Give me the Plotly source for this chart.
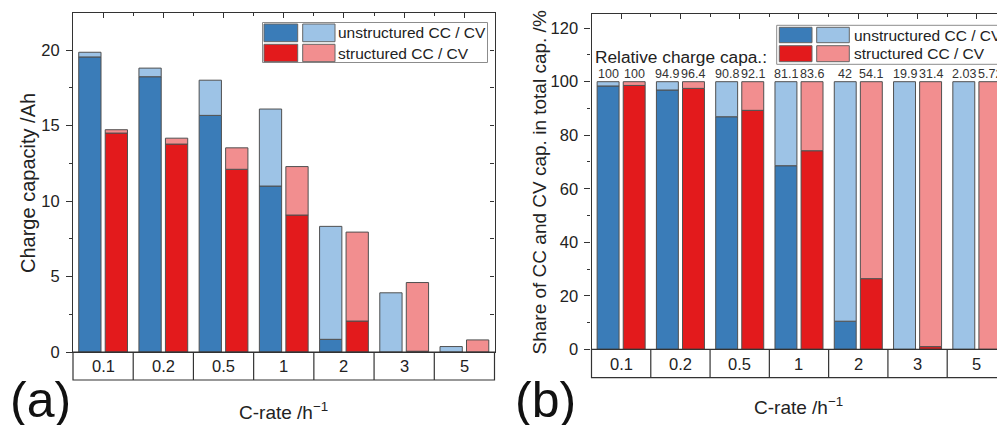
import plotly.graph_objects as go

# ---------------- data ----------------
c_rates = ["0.1", "0.2", "0.5", "1", "2", "3", "5"]

# (a) charge capacity /Ah
unstruct_cc = [19.54, 18.23, 15.67, 10.99, 0.84, 0.0, 0.0]
unstruct_total = [19.85, 18.80, 18.00, 16.09, 8.32, 3.92, 0.36]
struct_cc = [14.50, 13.77, 12.10, 9.07, 2.05, 0.05, 0.0]
struct_total = [14.72, 14.16, 13.52, 12.28, 7.94, 4.60, 0.80]

# (b) share of CC capacity in total capacity /%
unstruct_cc_share = [98.4, 96.9, 86.9, 68.6, 10.5, 0.0, 0.0]
struct_cc_share = [98.6, 97.5, 89.3, 74.2, 26.4, 1.0, 0.0]

# relative charge capacity labels
unstruct_rel = ["100", "94.9", "90.8", "81.1", "42", "19.9", "2.03"]
struct_rel = ["100", "96.4", "92.1", "83.6", "54.1", "31.4", "5.72"]

# ---------------- style ----------------
W, H = 997, 425
FONT = "Liberation Sans, Arial, sans-serif"
DARK_BLUE = "#3a7cb8"
LIGHT_BLUE = "#9dc3e6"
RED = "#e31a1c"
LIGHT_RED = "#f28e8f"
EDGE = "#505050"
AX = "#333333"
TXT = "#222222"

BW = 0.37
SHIFT = 0.22
OFF_U = -SHIFT - BW / 2
OFF_S = SHIFT - BW / 2


def px(x):
    return x / W


def py(y):
    return 1 - y / H


idx = list(range(len(c_rates)))
fig = go.Figure()


def add_stack(xa, ya, cc, top, off, c1, c2):
    fig.add_trace(go.Bar(x=idx, y=cc, offset=off, width=BW, xaxis=xa, yaxis=ya,
                         marker=dict(color=c1, line=dict(color=EDGE, width=1)),
                         showlegend=False, hoverinfo="skip"))
    cv = [t - c for t, c in zip(top, cc)]
    fig.add_trace(go.Bar(x=idx, y=cv, base=cc, offset=off, width=BW, xaxis=xa, yaxis=ya,
                         marker=dict(color=c2, line=dict(color=EDGE, width=1)),
                         showlegend=False, hoverinfo="skip"))


# panel (a)
add_stack("x", "y", unstruct_cc, unstruct_total, OFF_U, DARK_BLUE, LIGHT_BLUE)
add_stack("x", "y", struct_cc, struct_total, OFF_S, RED, LIGHT_RED)
# panel (b)
SHARE_TOTAL = [100] * len(c_rates)
add_stack("x2", "y2", unstruct_cc_share, SHARE_TOTAL, OFF_U, DARK_BLUE, LIGHT_BLUE)
add_stack("x2", "y2", struct_cc_share, SHARE_TOTAL, OFF_S, RED, LIGHT_RED)

# empty traces to activate overlay (tick) axes
for xa, ya in [("x3", "y"), ("x", "y3"), ("x4", "y2")]:
    fig.add_trace(go.Scatter(x=[None], y=[None], xaxis=xa, yaxis=ya, showlegend=False,
                             hoverinfo="skip"))

XA_DOM = [px(73), px(494.5)]
XB_DOM = [px(591.5), 1.0]
YA_DOM = [py(352), py(13)]
YB_DOM = [py(349.3), py(14)]
XA_RANGE = [-0.5, 6.5]
XB_RANGE = [-0.5, 6.34]

base_x = dict(showgrid=False, zeroline=False, showticklabels=False, ticks="",
              showline=True, linecolor=AX, linewidth=1.2, fixedrange=True,
              automargin=False)
tickfont = dict(family=FONT, size=16.5, color=TXT)

top_axis = dict(showgrid=False, zeroline=False, showticklabels=False,
                showline=True, linecolor=AX, linewidth=1.2, automargin=False,
                tickmode="array", tickvals=idx, ticks="inside", ticklen=5,
                tickcolor=AX, tickwidth=1.2,
                minor=dict(tickmode="linear", tick0=-0.5, dtick=1, ticks="inside",
                           ticklen=3, tickcolor=AX, tickwidth=1.2))

fig.update_layout(
    template="none",
    width=W, height=H, margin=dict(l=0, r=0, t=0, b=0, pad=0, autoexpand=False),
    paper_bgcolor="white", plot_bgcolor="white",
    barmode="overlay", font=dict(family=FONT, color=TXT),
    xaxis=dict(domain=XA_DOM, range=XA_RANGE, anchor="y", **base_x),
    xaxis2=dict(domain=XB_DOM, range=XB_RANGE, anchor="y2", **base_x),
    xaxis3=dict(overlaying="x", anchor="y", side="top", range=XA_RANGE, **top_axis),
    xaxis4=dict(overlaying="x2", anchor="y2", side="top", range=XB_RANGE, **top_axis),
    yaxis=dict(domain=YA_DOM, range=[0, 22.45], anchor="x", showgrid=False,
               zeroline=False, showline=True, linecolor=AX, linewidth=1.2,
               tickmode="linear", tick0=0, dtick=5, ticks="outside", ticklen=6,
               tickcolor=AX, tickwidth=1.2, tickfont=tickfont, ticklabelstandoff=3,
               minor=dict(tickmode="linear", tick0=0, dtick=2.5, ticks="outside",
                          ticklen=3, tickcolor=AX, tickwidth=1.2),
               fixedrange=True, automargin=False),
    yaxis3=dict(overlaying="y", anchor="x", side="right", range=[0, 22.45],
                showgrid=False, zeroline=False, showline=True, linecolor=AX,
                linewidth=1.2, showticklabels=False, tickmode="linear", tick0=0,
                dtick=2.5, ticks="inside", ticklen=4, tickcolor=AX, tickwidth=1.2,
                automargin=False),
    yaxis2=dict(domain=YB_DOM, range=[0, 125.3], anchor="x2", showgrid=False,
                zeroline=False, showline=True, linecolor=AX, linewidth=1.2,
                tickmode="linear", tick0=0, dtick=20, ticks="outside", ticklen=6,
                tickcolor=AX, tickwidth=1.2, tickfont=tickfont, ticklabelstandoff=3,
                minor=dict(tickmode="linear", tick0=0, dtick=10, ticks="outside",
                           ticklen=3, tickcolor=AX, tickwidth=1.2),
                fixedrange=True, automargin=False),
)

shapes = []
annotations = []

# relative charge capacity labels above the 100 % bars
for labels, sgn in [(unstruct_rel, -1), (struct_rel, 1)]:
    for i, lab, tot in zip(idx, labels, SHARE_TOTAL):
        annotations.append(dict(xref="x2", yref="y2", x=i + sgn * SHIFT, y=tot, text=lab,
                                showarrow=False, xanchor="center", yanchor="bottom",
                                yshift=-1, font=dict(family=FONT, size=12.5, color="#333")))

# category tables below the plots
for xr, xdom, ytop, ybot in [("x", "x domain", 352, 380), ("x2", "x2 domain", 349.3, 377.7)]:
    shapes.append(dict(type="rect", xref=xdom, yref="paper", x0=0, x1=1.2 if xr == "x2" else 1,
                       y0=py(ybot), y1=py(ytop), line=dict(color=AX, width=1.2),
                       fillcolor="rgba(0,0,0,0)"))
    for i in idx[:-1]:
        shapes.append(dict(type="line", xref=xr, yref="paper", x0=i + 0.5, x1=i + 0.5,
                           y0=py(ybot), y1=py(ytop), line=dict(color=AX, width=1.2)))
    for i, lab in zip(idx, c_rates):
        annotations.append(dict(xref=xr, yref="paper", x=i, y=py((ytop + ybot) / 2),
                                text=lab, showarrow=False, xanchor="center", yanchor="middle",
                                font=dict(family=FONT, size=16.5, color=TXT)))


# custom legends
def legend(box, rows, text_x, size=15.5):
    x0, x1, y0, y1 = box
    shapes.append(dict(type="rect", xref="paper", yref="paper", x0=px(x0), x1=px(x1),
                       y0=py(y1), y1=py(y0), line=dict(color="#8c8c8c", width=1),
                       fillcolor="white", layer="above"))
    for (ry0, ry1, swatches, label) in rows:
        for (sx0, sx1, col) in swatches:
            shapes.append(dict(type="rect", xref="paper", yref="paper", x0=px(sx0), x1=px(sx1),
                               y0=py(ry1), y1=py(ry0), line=dict(color="#666666", width=1),
                               fillcolor=col, layer="above"))
        annotations.append(dict(xref="paper", yref="paper", x=px(text_x), y=py((ry0 + ry1) / 2),
                                text=label, showarrow=False, xanchor="left", yanchor="middle",
                                font=dict(family=FONT, size=size, color=TXT)))


legend((262.5, 487.5, 22.5, 62.5),
       [(24, 41.7, [(264, 297.7, DARK_BLUE), (302.7, 335, LIGHT_BLUE)], "unstructured CC / CV"),
        (44.3, 61.7, [(264, 297.7, RED), (302.7, 335, LIGHT_RED)], "structured CC / CV")],
       336)
legend((776.7, 1010, 25.3, 64.3),
       [(27.3, 42.7, [(779.3, 812, DARK_BLUE), (816.7, 849.3, LIGHT_BLUE)], "unstructured CC / CV"),
        (45.7, 61.7, [(779.3, 812, RED), (816.7, 849.3, LIGHT_RED)], "structured CC / CV")],
       852)

# texts
annotations += [
    dict(xref="paper", yref="paper", x=px(593), y=py(57.5), text="Relative charge capa.:",
         showarrow=False, xanchor="left", yanchor="middle",
         font=dict(family=FONT, size=17.3, color=TXT)),
    dict(xref="paper", yref="paper", x=px(283.5), y=py(411), text="C-rate /h<sup>−1</sup>",
         showarrow=False, xanchor="center", yanchor="middle",
         font=dict(family=FONT, size=19, color=TXT)),
    dict(xref="paper", yref="paper", x=px(798), y=py(406), text="C-rate /h<sup>−1</sup>",
         showarrow=False, xanchor="center", yanchor="middle",
         font=dict(family=FONT, size=19, color=TXT)),
    dict(xref="paper", yref="paper", x=px(28), y=py(183), text="Charge capacity /Ah",
         showarrow=False, xanchor="center", yanchor="middle", textangle=-90,
         font=dict(family=FONT, size=20, color=TXT)),
    dict(xref="paper", yref="paper", x=px(538.5), y=py(183), text="Share of CC and CV cap. in total cap. /%",
         showarrow=False, xanchor="center", yanchor="middle", textangle=-90,
         font=dict(family=FONT, size=19, color=TXT)),
    dict(xref="paper", yref="paper", x=px(8), y=py(400), text="(a)",
         showarrow=False, xanchor="left", yanchor="middle",
         font=dict(family=FONT, size=50, color="#111")),
    dict(xref="paper", yref="paper", x=px(513), y=py(400), text="(b)",
         showarrow=False, xanchor="left", yanchor="middle",
         font=dict(family=FONT, size=50, color="#111")),
]

fig.update_layout(shapes=shapes, annotations=annotations)
fig.write_html("out.html")
